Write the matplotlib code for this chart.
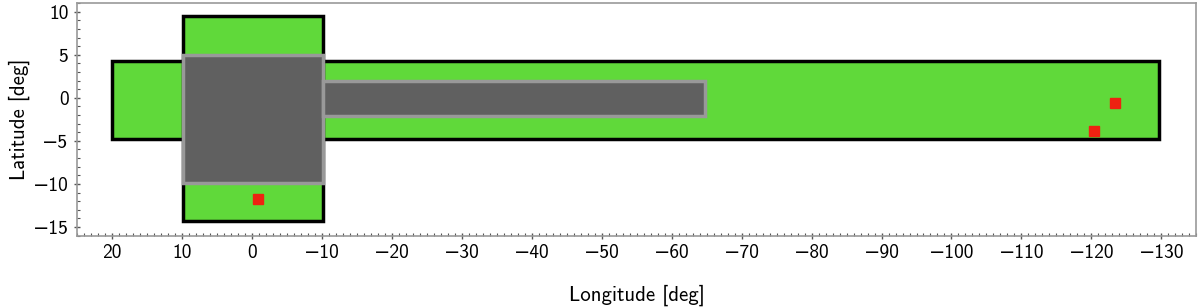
import matplotlib.pyplot as plt
from matplotlib.patches import Rectangle
from matplotlib.ticker import MultipleLocator

plt.rcParams['font.family'] = ['cmss10', 'DejaVu Sans']
plt.rcParams['axes.unicode_minus'] = True
plt.rcParams['mathtext.fontset'] = 'cm'

# survey footprints: (lon_left, lon_right, lat_bottom, lat_top)
green_lon = [(20, -129.6), (9.8, -10.2)]
green_lat = [(-4.8, 4.25), (-14.3, 9.5)]
gray_lon = [(9.8, -10.2), (-10.2, -64.8)]
gray_lat = [(-9.85, 4.95), (-2.1, 1.95)]

# red point sources
src_lon = [-0.9, -120.4, -123.3]
src_lat = [-11.7, -3.85, -0.6]

fig, ax = plt.subplots(figsize=(12, 3.08), dpi=100)

for (l0, l1), (b0, b1) in zip(green_lon, green_lat):
    ax.add_patch(Rectangle((l1, b0), l0 - l1, b1 - b0, facecolor='#60d93a',
                           edgecolor='black', linewidth=2.5, zorder=2))
for (l0, l1), (b0, b1) in zip(gray_lon, gray_lat):
    ax.add_patch(Rectangle((l1, b0), l0 - l1, b1 - b0, facecolor='#606060',
                           edgecolor='#999999', linewidth=2.5, zorder=3))

ax.plot(src_lon, src_lat, 's', color='#ee2211', markersize=7.5, zorder=4)

ax.set_xlim(25, -135)
ax.set_ylim(-16, 11)
ax.set_xticks(range(20, -131, -10))
ax.set_yticks([10, 5, 0, -5, -10, -15])
ax.xaxis.set_minor_locator(MultipleLocator(1))
ax.yaxis.set_minor_locator(MultipleLocator(1))
ax.tick_params(which='major', direction='inout', length=5, width=1,
               color='#555555', labelsize=14)
ax.tick_params(which='minor', direction='in', length=2, width=0.8, color='#555555')
for s in ax.spines.values():
    s.set_color('#999999')
    s.set_linewidth(1.2)

ax.set_xlabel('Longitude [deg]', fontsize=15, labelpad=16)
ax.set_ylabel('Latitude [deg]', fontsize=15, labelpad=2)

fig.subplots_adjust(left=0.064, right=0.997, top=0.99, bottom=0.235)
fig.savefig('out.png', dpi=100)
